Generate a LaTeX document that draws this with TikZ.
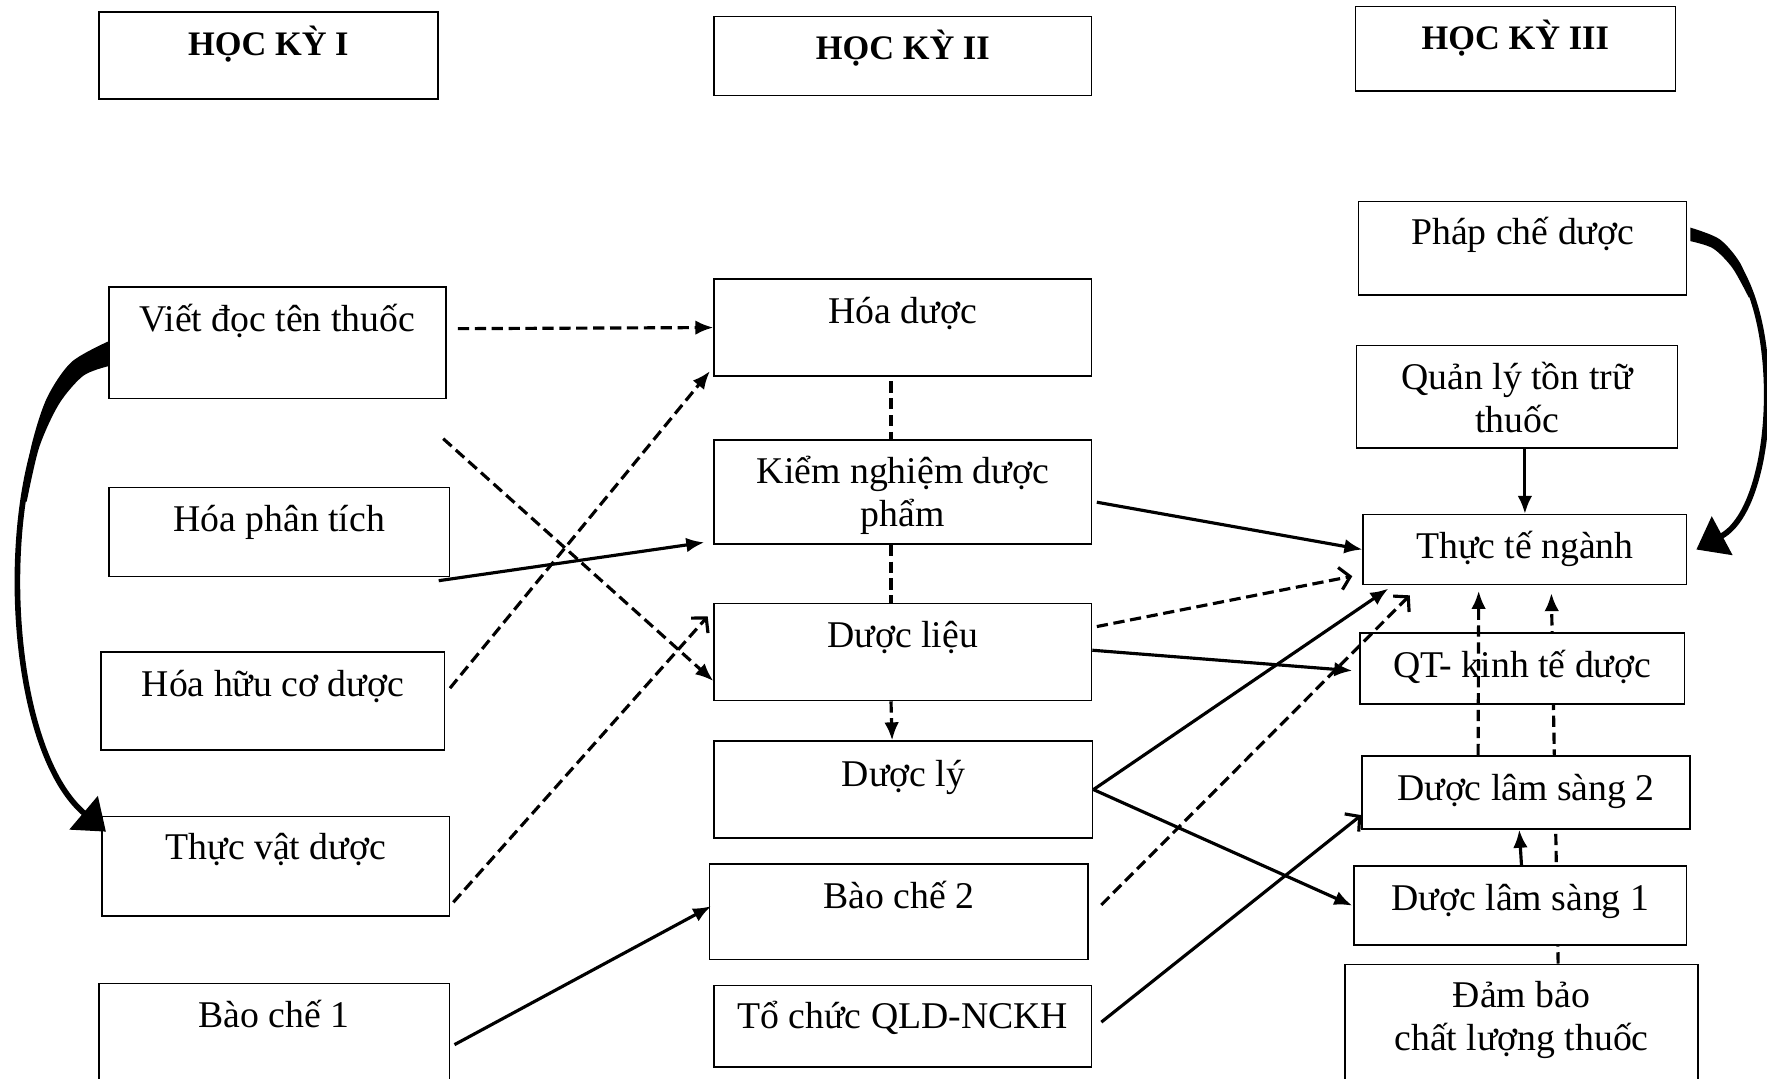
\documentclass[tikz,border=0pt]{standalone}
\usepackage{fontspec}
\setmainfont{Liberation Serif}
\usetikzlibrary{arrows.meta,backgrounds}

\begin{document}
\begin{tikzpicture}[
        x=1pt, y=-1pt,
        box/.style={draw, fill=white, line width=1.3pt, anchor=north west, inner sep=0pt},
        lbl/.style={anchor=base, align=center, inner sep=0pt, font=\fontsize{33.5}{38}\selectfont},
        hdr/.style={anchor=base, inner sep=0pt, font=\fontsize{30.5}{34}\selectfont\bfseries},
        link/.style={line width=2.8pt, -{Latex[length=16pt,width=13pt]}},
        dlink/.style={link, dash pattern=on 10pt off 5pt},
        barb/.style={line width=2.8pt, -{Straight Barb[length=9pt,width=20pt,line width=2.8pt]}},
        dbarb/.style={barb, dash pattern=on 10pt off 5pt},
        dline/.style={line width=2.8pt, dash pattern=on 10pt off 5pt},
        curvy/.style={line width=5pt, -{Triangle[length=26pt,width=38pt]}}]
    \clip (0,0) rectangle (1568,957);

    % headers
    \node[box, minimum width=301pt, minimum height=77pt] (hk1) at (87,10) {};
    \node[hdr] (hk1t) at ([yshift=-39pt]hk1.north) {HỌC KỲ I};
    \node[box, minimum width=335pt, minimum height=70pt] (hk2) at (633,14) {};
    \node[hdr] (hk2t) at ([yshift=-39pt]hk2.north) {HỌC KỲ II};
    \node[box, minimum width=284pt, minimum height=75pt] (hk3) at (1202,5) {};
    \node[hdr] (hk3t) at ([yshift=-39pt]hk3.north) {HỌC KỲ III};

    % semester 1
    \node[box, minimum width=299pt, minimum height=99pt] (viet) at (96,254) {};
    \node[lbl] (viett) at ([yshift=-40pt]viet.north) {Viết đọc tên thuốc};
    \node[box, minimum width=302pt, minimum height=79pt] (hpt) at (96,432) {};
    \node[lbl] (hptt) at ([yshift=-40pt]hpt.north) {Hóa phân tích};
    \node[box, minimum width=305pt, minimum height=87pt] (hhc) at (89,578) {};
    \node[lbl] (hhct) at ([yshift=-40pt]hhc.north) {Hóa hữu cơ dược};
    \node[box, minimum width=308pt, minimum height=88pt] (tvd) at (90,724) {};
    \node[lbl] (tvdt) at ([yshift=-39pt]tvd.north) {Thực vật dược};
    \node[box, minimum width=311pt, minimum height=120pt] (bc1) at (87,872) {};
    \node[lbl] (bc1t) at ([yshift=-40pt]bc1.north) {Bào chế 1};

    % semester 2
    \node[box, minimum width=335pt, minimum height=86pt] (hd) at (633,247) {};
    \node[lbl] (hdt) at ([yshift=-40pt]hd.north) {Hóa dược};
    \node[box, minimum width=335pt, minimum height=92pt] (kn) at (633,390) {};
    \node[lbl] (knt) at ([yshift=-77pt]kn.north) {Kiểm nghiệm dược\\phẩm};
    \node[box, minimum width=335pt, minimum height=86pt] (dl) at (633,535) {};
    \node[lbl] (dlt) at ([yshift=-40pt]dl.north) {Dược liệu};
    \node[box, minimum width=336pt, minimum height=86pt] (dly) at (633,657) {};
    \node[lbl] (dlyt) at ([yshift=-41pt]dly.north) {Dược lý};
    \node[box, minimum width=336pt, minimum height=85pt] (bc2) at (629,766) {};
    \node[lbl] (bc2t) at ([yshift=-40pt]bc2.north) {Bào chế 2};
    \node[box, minimum width=335pt, minimum height=72pt] (tc) at (633,874) {};
    \node[lbl] (tct) at ([yshift=-39pt]tc.north) {Tổ chức QLD-NCKH};

    % semester 3
    \node[box, minimum width=291pt, minimum height=83pt] (pc) at (1205,178) {};
    \node[lbl] (pct) at ([yshift=-39pt]pc.north) {Pháp chế dược};
    \node[box, minimum width=285pt, minimum height=91pt] (ql) at (1203,306) {};
    \node[lbl] (qlt) at ([yshift=-78pt]ql.north) {Quản lý tồn trữ\\thuốc};
    \node[box, minimum width=287pt, minimum height=62pt] (tt) at (1209,456) {};
    \node[lbl] (ttt) at ([yshift=-40pt]tt.north) {Thực tế ngành};
    \node[box, minimum width=288pt, minimum height=63pt] (qt) at (1206,561) {};
    \node[lbl] (qtt) at ([yshift=-40pt]qt.north) {QT- kinh tế dược};
    \node[box, minimum width=291pt, minimum height=65pt] (ls2) at (1208,670) {};
    \node[lbl] (ls2t) at ([yshift=-40pt]ls2.north) {Dược lâm sàng 2};
    \node[box, minimum width=295pt, minimum height=70pt] (ls1) at (1201,768) {};
    \node[lbl] (ls1t) at ([yshift=-40pt]ls1.north) {Dược lâm sàng 1};
    \node[box, minimum width=313pt, minimum height=120pt] (db) at (1193,855) {};
    \node[lbl] (dbt) at ([yshift=-77pt]db.north) {Đảm bảo\\chất lượng thuốc};

    % semester 1 -> 2
    \draw[dlink] ([xshift=10pt,yshift=12.5pt]viet.east) -- (hd.west);
    \draw[dlink] ([xshift=-3pt,yshift=-35pt]viet.south east) -- ([yshift=18pt]dl.south west);
    \draw[link] ([xshift=-10pt,yshift=-3pt]hpt.south east) -- ([xshift=-8pt,yshift=2pt]kn.south west);
    \draw[dlink] ([xshift=4pt,yshift=11.5pt]hhc.east) -- ([xshift=-3pt,yshift=5pt]hd.south west);
    \draw[dbarb] ([xshift=3pt,yshift=-32pt]tvd.east) -- ([xshift=-5pt,yshift=-12pt]dl.north west);
    \draw[link] ([xshift=4pt,yshift=-55pt]bc1.north east) -- ([xshift=2pt,yshift=5pt]bc2.west);

    % inside semester 2
    \draw[dline] ([xshift=-10.5pt,yshift=-4pt]hd.south) -- ([xshift=-10.5pt]kn.north);
    \draw[dline] ([xshift=-10.5pt]kn.south) -- ([xshift=-10.5pt]dl.north);
    \draw[dlink] ([xshift=-10.5pt]dl.south) -- ([xshift=-10pt]dly.north);

    % semester 2 -> 3
    \draw[link] ([xshift=4pt,yshift=-9pt]kn.east) -- (tt.west);
    \draw[dbarb] ([xshift=4pt,yshift=-21pt]dl.north east) -- ([xshift=-9pt,yshift=8pt]tt.south west);
    \draw[link] ([yshift=-42pt]dl.north east) -- ([xshift=-6pt,yshift=-2pt]qt.west);
    \draw[link] (dly.east) -- ([xshift=23pt,yshift=-3pt]tt.south west);
    \draw[link] (dly.east) -- ([xshift=-1pt]ls1.west);
    \draw[dbarb] ([xshift=11pt,yshift=-37pt]bc2.north east) -- ([xshift=42pt,yshift=-9pt]tt.south west);
    \draw[barb] ([xshift=8pt,yshift=-33pt]tc.north east) -- ([yshift=13pt]ls2.south west);

    % inside semester 3
    \draw[link] (tt.north |- ql.south) -- (tt.north);
    \draw[dlink] ([xshift=-42.5pt]ls2.north) -- ([xshift=-41pt,yshift=-5pt]tt.south);
    \begin{scope}[on background layer]
        \draw[dlink] ([xshift=32.5pt]db.north) -- ([xshift=23.5pt,yshift=-7pt]tt.south);
    \end{scope}
    \draw[link] ([xshift=1pt]ls1.north) -- ([xshift=-6pt]ls2.south);

    % curved arrows (thick at the start)
    \draw[curvy] ([yshift=-60pt]viet.north west) .. controls (-5,330) and (-10,650) .. ([xshift=4pt,yshift=-14pt]tvd.north west);
    \fill plot[smooth] coordinates {(96,303) (63.4,321.3) (41.7,353) (28,395.1) (19.7,444.4)}
        -- plot[smooth] coordinates {(23.7,445.2) (34.8,396.9) (52.3,358.6) (73.8,333.5) (96,325)} -- cycle;
    \draw[curvy] ([xshift=4pt,yshift=-30pt]pc.north east) .. controls (1585,215) and (1585,445) .. ([xshift=8pt]tt.east);
    \fill plot[smooth] coordinates {(1500,202) (1525.8,212.2) (1544.2,233.5) (1555.6,262.6)}
        -- plot[smooth] coordinates {(1551.8,264) (1537.4,237.9) (1520.2,220.5) (1500,214)} -- cycle;
\end{tikzpicture}
\end{document}
